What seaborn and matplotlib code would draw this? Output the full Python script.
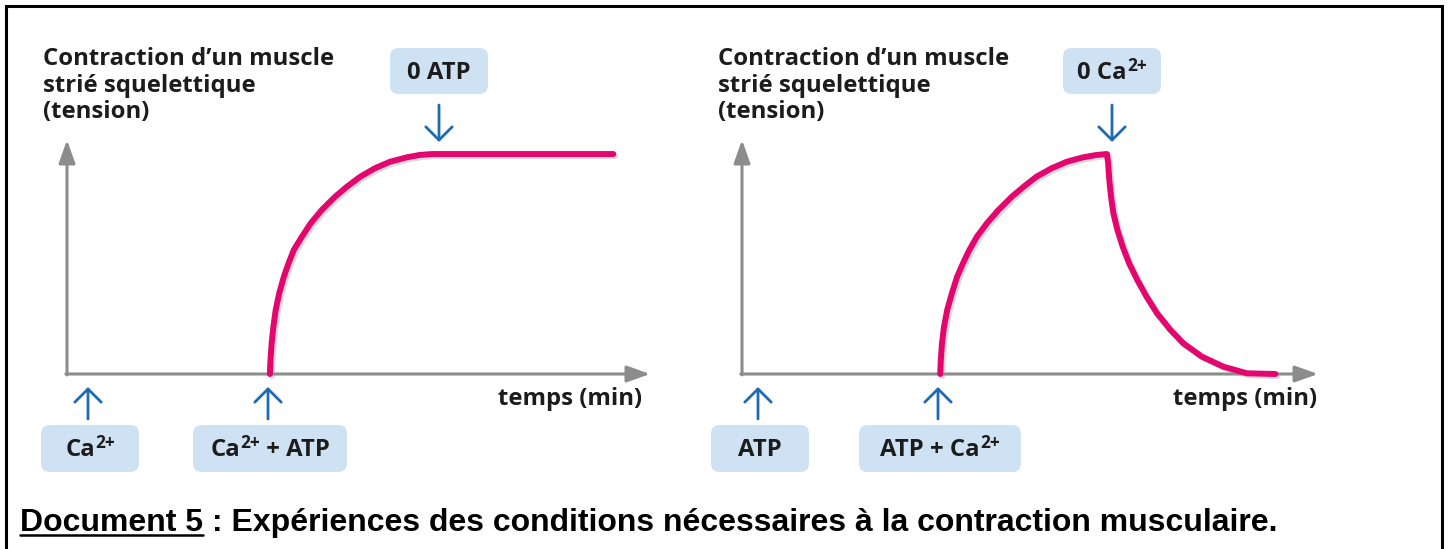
import seaborn as sns
import matplotlib.pyplot as plt
import matplotlib.patheffects as pe
from matplotlib.patches import FancyBboxPatch, FancyArrowPatch, Rectangle
from matplotlib.transforms import Bbox
from matplotlib.lines import Line2D

# data (time and tension in arbitrary units, 0-100)
left_time = [34.8, 34.9, 35.1, 35.4, 35.8, 36.4, 37.2, 38.0, 38.9, 40.3, 41.8, 43.7, 46.0,
             48.0, 50.3, 52.8, 55.4, 58.3, 60.5, 62.6, 93.7]
left_tension = [0, 6.0, 13.1, 20.2, 27.4, 34.5, 41.6, 47.3, 53.0, 58.7, 64.4, 70.1, 75.8,
                80.0, 84.3, 87.9, 90.7, 92.6, 93.6, 94.0, 94.0]

right_time = [34.0, 34.1, 34.3, 34.65, 35.2, 36.0, 36.9, 37.9, 39.0, 40.3, 42.0, 44.0, 46.3,
              48.3, 50.5, 53.1, 55.7, 58.5, 60.8, 62.6,
              62.8, 63.0, 63.3, 63.7, 64.4, 65.3, 66.4, 67.8, 69.4, 71.2, 73.5, 75.7, 78.9,
              82.6, 86.6, 91.5]
right_tension = [0, 6.0, 13.1, 20.2, 27.4, 34.5, 41.6, 47.3, 53.0, 58.7, 64.4, 70.1, 75.8,
                 80.0, 84.3, 87.9, 90.7, 92.6, 93.6, 94.0,
                 90.0, 82.9, 75.8, 68.7, 61.5, 54.4, 47.3, 40.2, 33.0, 25.9, 18.8, 13.1, 7.4,
                 3.1, 0.3, 0]

ylabel_lines = ["Contraction d\u2019un muscle", "strié squelettique", "(tension)"]
xlabel = "temps (min)"
left_top_label = "0 ATP"
right_top_label = "0 Ca²⁺"
left_bottom_labels = ["Ca²⁺", "Ca²⁺ + ATP"]
right_bottom_labels = ["ATP", "ATP + Ca²⁺"]
caption_head = "Document 5"
caption_tail = " : Expériences des conditions nécessaires à la contraction musculaire."

W, H = 1450, 549
PINK = '#e3066f'
GREY = '#8c8c8c'
BLUE = '#1f6bb3'
BOXC = '#cfe2f3'
TXT = '#1c1c1c'

sns.set_theme(style="white")
plt.rcParams['font.family'] = ['Open Sans', 'DejaVu Sans']

FS = 17.2
FW = 'bold'

fig = plt.figure(figsize=(W / 100, H / 100), dpi=100)
fig.patch.set_facecolor('white')
renderer = fig.canvas.get_renderer()


def fx(x):
    return x / W


def fy(y):
    return 1 - y / H


def label_text(xc, yb, label):
    # split "Ca²⁺" style labels into normal and raised parts
    parts = []
    for i, chunk in enumerate(label.split('²⁺')):
        if i > 0:
            parts.append(('2+', True))
        if chunk:
            parts.append((chunk, False))
    objs = []
    for s, sup in parts:
        t = fig.text(0, fy(yb - (8 if sup else 0)), s, ha='left', va='baseline',
                     fontsize=FS * 0.72 if sup else FS, fontweight=FW, color=TXT)
        objs.append(t)
    widths = [t.get_window_extent(renderer).width for t in objs]
    x = xc - sum(widths) / 2
    for t, w in zip(objs, widths):
        t.set_x(fx(x))
        x += w


def box(x0, x1, y0, y1, text):
    p = FancyBboxPatch((fx(x0), fy(y1)), fx(x1) - fx(x0), fy(y0) - fy(y1),
                       boxstyle="round,pad=0,rounding_size=0.006",
                       transform=fig.transFigure, fc=BOXC, ec='none',
                       mutation_aspect=W / H)
    fig.add_artist(p)
    label_text((x0 + x1) / 2, (y0 + y1) / 2 + 8, text)


def blue_arrow(x, y_from, y_to):
    a = FancyArrowPatch((fx(x), fy(y_from)), (fx(x), fy(y_to)), transform=fig.transFigure,
                        arrowstyle='->,head_length=0.95,head_width=0.95', mutation_scale=10,
                        color=BLUE, lw=2.0, shrinkA=0, shrinkB=0)
    fig.add_artist(a)


def panel(ox, times, tension, axis_end, top_label, top_x, bottom_labels, bottom_boxes, clip_x=None):
    ax = fig.add_axes([fx(ox), fy(374), 583 / W, 234 / H])
    ax.set_xlim(0, 100)
    ax.set_ylim(0, 100)
    ax.set_axis_off()

    # axes drawn as grey arrows
    arr = dict(arrowstyle='-|>,head_length=1.4,head_width=0.5', mutation_scale=10,
               color=GREY, lw=2.2, shrinkA=0, shrinkB=0)
    ax.annotate('', xy=(axis_end, 0), xytext=(-0.2, 0), arrowprops=arr, annotation_clip=False)
    ax.annotate('', xy=(0, 100), xytext=(0, -0.4), arrowprops=arr, annotation_clip=False)

    sns.lineplot(x=times, y=tension, ax=ax, color=PINK, lw=4.3, sort=False,
                 estimator=None, clip_on=False, zorder=5, solid_joinstyle='round',
                 path_effects=[pe.SimpleLineShadow(offset=(1.5, -1.5), shadow_color='#999999', alpha=0.35),
                               pe.Normal()])

    # y label
    lx = ox - 24
    for i, line in enumerate(ylabel_lines):
        fig.text(fx(lx), fy(65 + 26.5 * i), line, ha='left', va='baseline',
                 fontsize=FS, fontweight=FW, color=TXT)

    # x label
    t = fig.text(fx(ox + 431), fy(405), xlabel, ha='left', va='baseline',
                 fontsize=FS, fontweight=FW, color=TXT)
    if clip_x is not None:
        t.set_clip_box(Bbox.from_extents(0, 0, clip_x, H))
        t.set_clip_on(True)

    # top label + arrow
    box(top_x - 49, top_x + 49, 48, 94, top_label)
    blue_arrow(top_x, 105, 142)

    # bottom labels + arrows
    for lab, (bx0, bx1, ax_x) in zip(bottom_labels, bottom_boxes):
        box(bx0, bx1, 425, 472, lab)
        blue_arrow(ax_x, 419, 387)
    return ax


panel(67, left_time, left_tension, 100, left_top_label, 439,
      left_bottom_labels, [(41, 139, 88), (193, 347, 268)])
panel(742, right_time, right_tension, 98.8, right_top_label, 1112,
      right_bottom_labels, [(711, 809, 758), (859, 1021, 938)], clip_x=1318)

# caption with underlined head
cap_kw = dict(fontsize=23, fontweight='bold', color='black', va='baseline',
              family=['Liberation Sans', 'DejaVu Sans'])
t1 = fig.text(fx(20), fy(531), caption_head, ha='left', **cap_kw)
bb = t1.get_window_extent(renderer)
fig.text(bb.x1 / W, fy(531), caption_tail, ha='left', **cap_kw)
fig.add_artist(Line2D([bb.x0 / W, bb.x1 / W], [fy(535), fy(535)],
                      transform=fig.transFigure, color='black', lw=1.8))

# outer frame
fig.add_artist(Rectangle((fx(6), fy(600)), fx(1442) - fx(6), fy(6) - fy(600),
                         transform=fig.transFigure, fill=False, ec='black', lw=2.2,
                         clip_on=False))

fig.savefig('out.png', dpi=100, facecolor='white')
